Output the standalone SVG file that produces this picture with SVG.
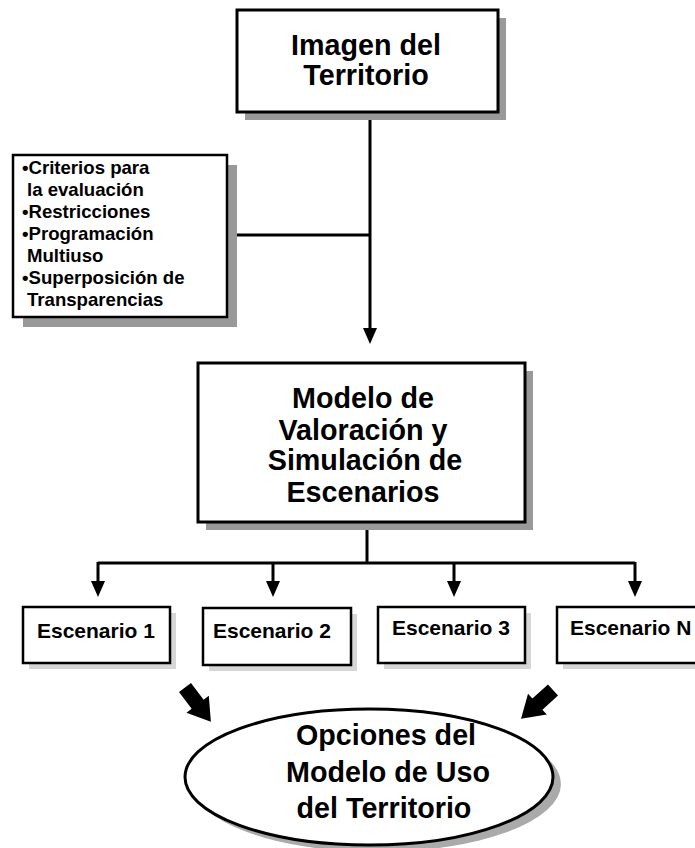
<svg xmlns="http://www.w3.org/2000/svg" width="695" height="848" viewBox="0 0 695 848">
<style>
text{font-family:"Liberation Sans",Arial,sans-serif;font-weight:bold;fill:#000}
.big{font-size:28.7px;text-anchor:middle}
.crit{font-size:18.6px}
.esc{font-size:21px}
.box{fill:#fff;stroke:#000;stroke-width:3}
.sh{fill:#999}
.shl{fill:#d6d6d6}
.ln{fill:none;stroke:#000;stroke-width:3}
.tri{fill:#000}
</style>
<defs>
<polygon id="fat" points="0,-7.5 21,-7.5 21,-14 43,0 21,14 21,7.5 0,7.5" fill="#000"/>
</defs>
<g id="connectors">
<line class="ln" x1="370" y1="112" x2="370" y2="329"/>
<polygon class="tri" points="363,328 377,328 370,344"/>
<line class="ln" x1="227" y1="235" x2="370" y2="235"/>
<line class="ln" x1="367" y1="522" x2="367" y2="563"/>
<line class="ln" x1="98" y1="563" x2="635" y2="563"/>
<line class="ln" x1="98" y1="562" x2="98" y2="582"/>
<polygon class="tri" points="91,581 105,581 98,597"/>
<line class="ln" x1="273" y1="562" x2="273" y2="582"/>
<polygon class="tri" points="266,581 280,581 273,597"/>
<line class="ln" x1="454" y1="562" x2="454" y2="582"/>
<polygon class="tri" points="447,581 461,581 454,597"/>
<line class="ln" x1="635" y1="562" x2="635" y2="582"/>
<polygon class="tri" points="628,581 642,581 635,597"/>
<use href="#fat" transform="translate(185,687.5) rotate(53)"/>
<use href="#fat" transform="translate(553,690) rotate(138)"/>
</g>
<g id="imagen">
<rect class="sh" x="245" y="18" width="261" height="102"/>
<rect class="box" x="237" y="10" width="261" height="102"/>
<text class="big" x="366" y="55">Imagen del</text>
<text class="big" x="366" y="85">Territorio</text>
</g>
<g id="criterios">
<rect class="sh" x="23" y="165" width="214" height="162"/>
<rect class="box" x="13" y="155" width="214" height="162" style="stroke-width:2.5"/>
<text class="crit" x="22" y="174">•Criterios para</text>
<text class="crit" x="27" y="196">la evaluación</text>
<text class="crit" x="22" y="218">•Restricciones</text>
<text class="crit" x="22" y="240">•Programación</text>
<text class="crit" x="27" y="262">Multiuso</text>
<text class="crit" x="22" y="284">•Superposición de</text>
<text class="crit" x="27" y="306">Transparencias</text>
</g>
<g id="modelo">
<rect class="sh" x="206" y="371" width="327" height="159"/>
<rect class="box" x="198" y="363" width="327" height="159"/>
<text class="big" x="363" y="408">Modelo de</text>
<text class="big" x="363" y="440">Valoración y</text>
<text class="big" x="365" y="470">Simulación de</text>
<text class="big" x="363" y="502">Escenarios</text>
</g>
<g id="esc1">
<rect class="shl" x="29" y="613" width="147" height="56"/>
<rect class="box" x="23" y="607" width="147" height="56" style="stroke-width:2.5"/>
<text class="esc" x="37" y="638">Escenario 1</text>
</g>
<g id="esc2">
<rect class="shl" x="209" y="614" width="148" height="57"/>
<rect class="box" x="203" y="608" width="148" height="57" style="stroke-width:2.5"/>
<text class="esc" x="213" y="638">Escenario 2</text>
</g>
<g id="esc3">
<rect class="shl" x="384" y="613" width="147" height="56"/>
<rect class="box" x="378" y="607" width="147" height="56" style="stroke-width:2.5"/>
<text class="esc" x="392" y="635">Escenario 3</text>
</g>
<g id="escN">
<rect class="shl" x="563" y="613" width="160" height="56"/>
<rect class="box" x="557" y="607" width="160" height="56" style="stroke-width:2.5"/>
<text class="esc" x="570" y="635">Escenario N</text>
</g>
<g id="opciones">
<ellipse cx="377" cy="784" rx="184" ry="68" fill="#aaa"/>
<ellipse cx="369" cy="777" rx="184" ry="68" fill="#fff" stroke="#000" stroke-width="3"/>
<text class="big" x="386" y="745">Opciones del</text>
<text class="big" x="388" y="782">Modelo de Uso</text>
<text class="big" x="384" y="818">del Territorio</text>
</g>
</svg>
